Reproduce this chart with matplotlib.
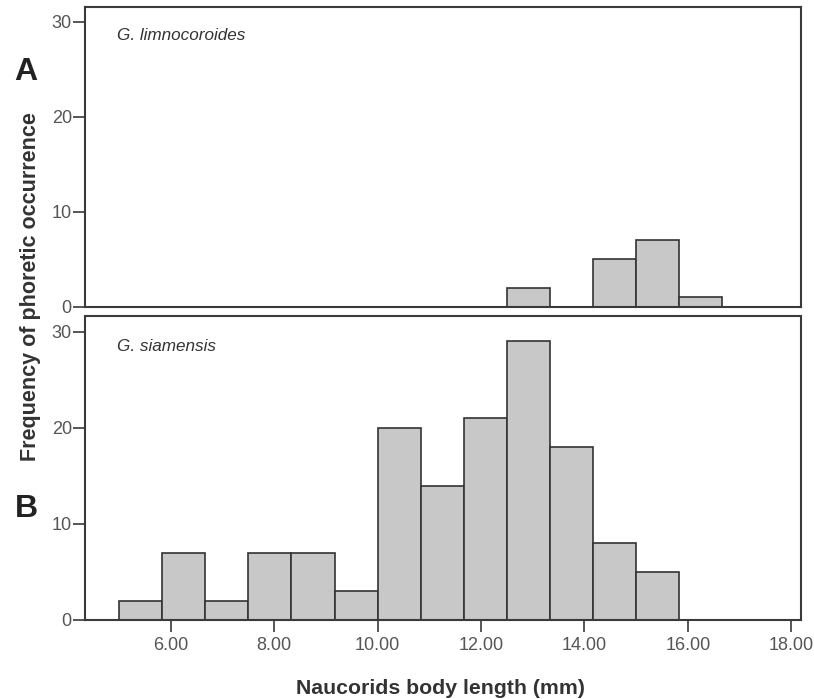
import numpy as np
import matplotlib
matplotlib.use("Agg")
import matplotlib.pyplot as plt

plt.rcParams['font.family'] = ['Liberation Sans', 'DejaVu Sans']

# bin edges (SPSS-style histogram, width 5/6 mm starting at 5.0)
bin_start = 5.0
bin_width = 5.0 / 6.0
n_bins = 14
edges = bin_start + bin_width * np.arange(n_bins)

counts_A = [0, 0, 0, 0, 0, 0, 0, 0, 0, 2, 0, 5, 7, 1]
counts_B = [2, 7, 2, 7, 7, 3, 20, 14, 21, 29, 18, 8, 5, 0]

species_A = "G. limnocoroides"
species_B = "G. siamensis"
panel_labels = ["A", "B"]
x_ticks = [6, 8, 10, 12, 14, 16, 18]
x_ticklabels = ["6.00", "8.00", "10.00", "12.00", "14.00", "16.00", "18.00"]
y_ticks = [0, 10, 20, 30]
xlabel = "Naucorids body length (mm)"
ylabel = "Frequency of phoretic occurrence"

W, H = 814, 699
fig = plt.figure(figsize=(W / 100, H / 100), dpi=100)

left = 85 / W
width = (801 - 85) / W
axA = fig.add_axes([left, 1 - 307 / H, width, (307 - 6.5) / H])
axB = fig.add_axes([left, 1 - 620 / H, width, (620 - 316.5) / H])

spine_col = '#3a3a3a'
tick_col = '#555555'
for ax, counts, name in [(axA, counts_A, species_A), (axB, counts_B, species_B)]:
    ax.bar(edges, counts, width=bin_width, align='edge', color='#c8c8c8',
           edgecolor='#333333', linewidth=1.2, zorder=2)
    ax.set_xlim(4.34, 18.19)
    ax.set_ylim(0, 31.6)
    ax.set_yticks(y_ticks)
    ax.set_yticklabels([str(v) for v in y_ticks])
    for s in ax.spines.values():
        s.set_color(spine_col)
        s.set_linewidth(1.5)
    ax.tick_params(axis='y', direction='out', length=8.5, width=1.2,
                   color=spine_col, labelcolor=tick_col, labelsize=13, pad=1)
    ax.text(0.0447, 0.902, name, transform=ax.transAxes, style='italic',
            fontsize=12.3, color='#333333', ha='left', va='center')

axA.set_xticks([])
axB.set_xticks(x_ticks)
axB.set_xticklabels(x_ticklabels)
axB.tick_params(axis='x', direction='out', length=8.5, width=1.2,
                color=spine_col, labelcolor=tick_col, labelsize=13, pad=4)

fig.text(26 / W, 1 - 71.5 / H, panel_labels[0], fontsize=23, fontweight='bold',
         color='#222222', ha='center', va='center')
fig.text(26 / W, 1 - 509 / H, panel_labels[1], fontsize=23, fontweight='bold',
         color='#222222', ha='center', va='center')
fig.text(31 / W, 1 - 286.5 / H, ylabel, rotation=90, fontsize=15.5,
         fontweight='bold', color='#333333', ha='center', va='center')
fig.text(440 / W, 1 - 688 / H, xlabel, fontsize=15.3, fontweight='bold',
         color='#333333', ha='center', va='center')

fig.savefig("out.png", dpi=100)
